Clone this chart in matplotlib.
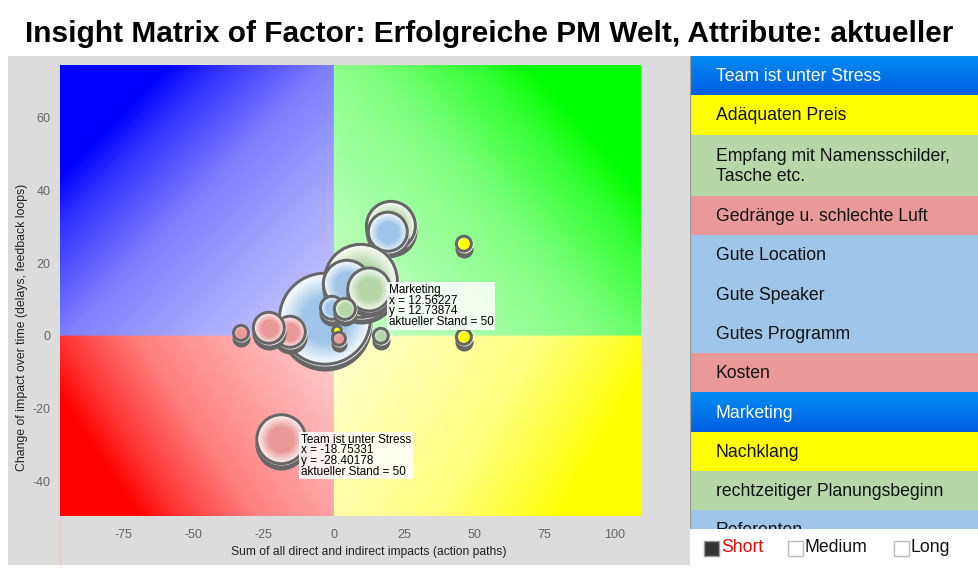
import numpy as np
import matplotlib
matplotlib.use("Agg")
import matplotlib.pyplot as plt
import matplotlib.transforms as mtransforms
from matplotlib.patches import Rectangle
from matplotlib.lines import Line2D
from matplotlib.colors import to_rgb

plt.rcParams['font.family'] = ['Liberation Sans', 'DejaVu Sans']
plt.rcParams['axes.unicode_minus'] = False

W, H = 979, 570

title = "Insight Matrix of Factor: Erfolgreiche PM Welt, Attribute: aktueller"
x_label = "Sum of all direct and indirect impacts (action paths)"
y_label = "Change of impact over time (delays, feedback loops)"

x_ticks = [-75, -50, -25, 0, 25, 50, 75, 100]
y_ticks = [-40, -20, 0, 20, 40, 60]
x_range = (-97.6, 109.4)
y_range = (-49.5, 74.4)

# bubbles in drawing order (later ones lie on top)
bubble_x = [-3.2, 20.3, 19.2, 9.6, 4.6, 12.56227, -0.7, 3.9, 1.1, 1.8,
            -33.1, -15.7, -23.2, 16.7, 46.3, 46.3, -18.75331]
bubble_y = [4.7, 30.2, 28.6, 15.1, 14.3, 12.73874, 7.7, 7.4, 1.4, -0.8,
            0.8, 1.1, 2.2, 0.0, 25.3, -0.3, -28.40178]
bubble_r = [47, 26, 21, 38, 25, 23, 13, 12, 6, 8, 9, 17, 17, 9, 9, 9, 26]
bubble_kind = ['blue', 'green', 'blue', 'green', 'blue', 'green', 'blue', 'green',
               'yellow', 'red', 'red', 'red', 'red', 'green', 'yellow', 'yellow', 'red']

# tooltips shown on the chart
tip_names = ["Marketing", "Team ist unter Stress"]
tip_x = [12.56227, -18.75331]
tip_y = [12.73874, -28.40178]
tip_stand = [50, 50]

# factor list on the right
items = ["Team ist unter Stress", "Adäquaten Preis", "Empfang mit Namensschilder,\nTasche etc.",
         "Gedränge u. schlechte Luft", "Gute Location", "Gute Speaker", "Gutes Programm",
         "Kosten", "Marketing", "Nachklang", "rechtzeitiger Planungsbeginn", "Referenten"]
item_kind = ['selected', 'yellow', 'green', 'red', 'blue', 'blue', 'blue',
             'red', 'selected', 'yellow', 'green', 'blue']
item_lines = [1, 1, 1.56, 1, 1, 1, 1, 1, 1, 1, 1, 1]

legend_names = ["Short", "Medium", "Long"]
legend_active = [True, False, False]

base = {'blue': '#9fc5e8', 'green': '#b6d7a8', 'red': '#ea9999', 'yellow': '#ffff00'}


def fx(px):
    return px / W


def fy(py):
    return 1 - py / H


fig = plt.figure(figsize=(W / 100, H / 100), dpi=100)

# grey chart panel
fig.add_artist(Rectangle((fx(8), fy(565)), fx(690) - fx(8), fy(56) - fy(565),
                         transform=fig.transFigure, facecolor='#dcdcdc',
                         edgecolor='none', zorder=0))
fig.add_artist(Line2D([fx(60.5), fx(60.5)], [fy(516), fy(565)], color='#e6caca', lw=0.8))

fig.text(fx(489), fy(42), title, ha='center', va='baseline',
         fontsize=21.5, fontweight='bold')

ax = fig.add_axes([fx(60), fy(516), (641 - 60) / W, (516 - 65) / H])
ax.set_xlim(x_range)
ax.set_ylim(y_range)

# quadrant gradients
nx, ny = 700, 500
X, Y = np.meshgrid(np.linspace(x_range[0], x_range[1], nx),
                   np.linspace(y_range[0], y_range[1], ny))
sx = ax.bbox.width / (x_range[1] - x_range[0])
sy = ax.bbox.height / (y_range[1] - y_range[0])
Wq = np.where(X < 0, -x_range[0], x_range[1]) * sx
Hq = np.where(Y < 0, -y_range[0], y_range[1]) * sy
t = (np.abs(X) * sx * Wq + np.abs(Y) * sy * Hq) / (Wq ** 2 + Hq ** 2)
s = np.interp(t, [0, 0.25, 0.5, 0.7, 0.8, 1], [0.18, 0.33, 0.5, 0.8, 1, 1])
pure = np.zeros((ny, nx, 3))
pure[(X < 0) & (Y >= 0)] = (0, 0, 1)
pure[(X >= 0) & (Y >= 0)] = (0, 1, 0)
pure[(X < 0) & (Y < 0)] = (1, 0, 0)
pure[(X >= 0) & (Y < 0)] = (1, 1, 0)
img = 1 - s[..., None] * (1 - pure)
ax.imshow(img, origin='lower', extent=(*x_range, *y_range), aspect='auto',
          interpolation='bilinear', zorder=0)

# bubbles
shadow_tr = mtransforms.offset_copy(ax.transData, fig=fig, x=0, y=-5, units='dots')


def area(rad):
    return (2 * rad * 0.72) ** 2


z = 2
for bx, by, br, bk in zip(bubble_x, bubble_y, bubble_r, bubble_kind):
    ax.scatter([bx], [by], s=area(br), color='#666666', linewidths=0,
               transform=shadow_tr, zorder=z)
    c = np.array(to_rgb(base[bk]))
    for rho in np.linspace(1, 0.05, 24):
        f = np.clip((1.0 - rho) / 0.5, 0.1, 1)
        ax.scatter([bx], [by], s=area(br * rho), color=1 - f * (1 - c),
                   linewidths=0, zorder=z)
    ax.scatter([bx], [by], s=area(br - 1.5), facecolors='none',
               edgecolors='#666666', linewidths=3 * 0.72, zorder=z)
    z += 1

for name, tx, ty, st in zip(tip_names, tip_x, tip_y, tip_stand):
    ax.annotate(f"{name}\nx = {tx}\ny = {ty}\naktueller Stand = {st}",
                xy=(tx, ty), xytext=(14, 4), textcoords='offset points',
                ha='left', va='top', fontsize=8.5, linespacing=0.85,
                bbox=dict(boxstyle='square,pad=0.15', fc='white', ec='none', alpha=0.85),
                zorder=200)

ax.set_xticks(x_ticks)
ax.set_yticks(y_ticks)
ax.tick_params(length=0, labelsize=9, labelcolor='#666666')
ax.tick_params(axis='x', pad=9)
ax.tick_params(axis='y', pad=7)
for sp in ax.spines.values():
    sp.set_visible(False)

fig.text(fx(369), fy(552), x_label, ha='center', va='center', fontsize=8.7, color='#222222')
fig.text(fx(22), fy(327), y_label, ha='center', va='center', rotation=90,
         fontsize=8.8, color='#222222')

# factor list
lax = fig.add_axes([fx(690), fy(529), (979 - 690) / W, (529 - 56) / H])
lax.set_xlim(690, 979)
lax.set_ylim(529, 56)
lax.axis('off')
row_h = 39.3
y0 = 56
for label, kind, n in zip(items, item_kind, item_lines):
    y1 = y0 + row_h * n
    if kind == 'selected':
        grad = np.linspace([0, 0.55, 0.95], [0, 0.37, 0.88], 40)[:, None, :]
        lax.imshow(grad, extent=(690, 979, y1, y0), origin='upper', aspect='auto', zorder=1)
        tc = 'white'
    else:
        lax.add_patch(Rectangle((690, y0), 289, y1 - y0, facecolor=base[kind],
                                edgecolor='none', zorder=1))
        tc = '#111111'
    lax.text(716, (y0 + y1) / 2 + 1, label, va='center', ha='left', fontsize=12.7,
             color=tc, linespacing=1.25, clip_on=True, zorder=2)
    y0 = y1
lax.plot([690.5, 690.5], [56, 529], color='#999999', lw=1, zorder=3)
lax.set_xlim(690, 979)
lax.set_ylim(529, 56)

# time-frame legend
legend_x = [704, 788, 894]
for lx, name, act in zip(legend_x, legend_names, legend_active):
    fig.add_artist(Rectangle((fx(lx), fy(556)), 15 / W, 15 / H, transform=fig.transFigure,
                             facecolor='#333333' if act else 'white',
                             edgecolor='#999999' if act else '#bbbbbb', lw=1))
    fig.text(fx(lx + 17), fy(548), name, ha='left', va='center', fontsize=12.7,
             color='red' if act else '#111111')

fig.savefig("out.png", dpi=100)
